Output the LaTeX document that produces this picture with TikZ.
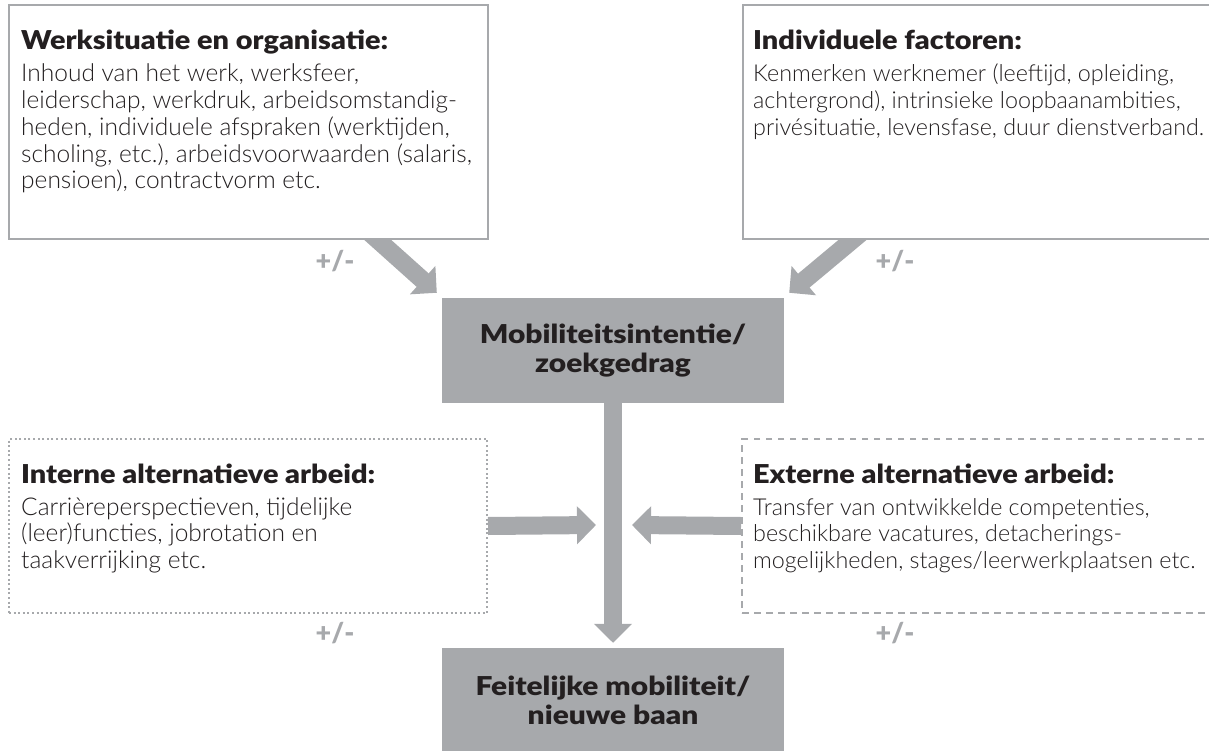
\documentclass[tikz,border=0pt]{standalone}
\usepackage{graphicx}
\usepackage{fontspec}
\setmainfont{Lato}[UprightFont={* Light}, BoldFont={* Black}]
\usetikzlibrary{arrows.meta,calc,backgrounds}
\definecolor{gr}{HTML}{A7A9AC}
\definecolor{ink}{HTML}{231F20}
\newcommand{\hstretch}[1]{\scalebox{1.15}[1]{#1}}
\newcommand{\tstretch}[1]{\scalebox{1.11}[1]{#1}}
\newcommand{\titlefont}{\fontsize{26}{26.7}\selectfont\bfseries}
\newcommand{\boxtext}[3]{\parbox[t]{600pt}{\raggedright\fontsize{#1}{26.7}\selectfont{\titlefont\tstretch{#2}}\\[5.3pt]#3}}
\tikzset{
  solidbox/.style={draw=gr, line width=2pt, fill=white, inner sep=0pt, anchor=north west},
  dotbox/.style={draw=gr, line width=2pt, dash pattern=on 2pt off 2.6pt, fill=white, inner sep=0pt, anchor=north west},
  dashbox/.style={draw=gr, line width=2pt, dash pattern=on 6.5pt off 5.5pt, fill=white, inner sep=0pt, anchor=north west},
  greybox/.style={fill=gr, minimum width=342pt, minimum height=105pt, inner sep=0pt, align=center, text=ink,
    font=\fontsize{26}{29}\selectfont\bfseries},
  txt/.style={anchor=base west, inner sep=0pt, text=ink},
  pm/.style={text=gr, font=\fontsize{27}{30}\selectfont\bfseries, inner sep=0pt},
  fat/.style={draw=gr, line width=18pt, -{Triangle[length=19pt,width=37pt]}}
}
\begin{document}
\begin{tikzpicture}[x=1pt,y=-1pt]
\useasboundingbox (0,0) rectangle (1209,751);
\clip (0,0) rectangle (1209,751);
% boxes
\node[solidbox, minimum width=479pt, minimum height=234pt] (werk) at (8,4) {};
\node[solidbox, minimum width=480pt, minimum height=234pt] (indiv) at (742,4) {};
\node[dotbox, minimum width=478pt, minimum height=174pt] (intern) at (8,438) {};
\node[dashbox, minimum width=480pt, minimum height=174pt] (extern) at (741,438) {};
\node[greybox] (mob) at (613,350.5) {\hstretch{Mobiliteitsintentie/}\\\hstretch{zoekgedrag}};
\node[greybox] (feit) at (613,700.5) {\hstretch{Feitelijke mobiliteit/}\\\hstretch{nieuwe baan}};
% texts
\node[txt] (werkt) at (21,50) {\boxtext{24.5}{Werksituatie en organisatie:}{Inhoud van het werk, werksfeer,\\leiderschap, werkdruk, arbeidsomstandig-\\heden, individuele afspraken (werktijden,\\scholing, etc.), arbeidsvoorwaarden (salaris,\\pensioen), contractvorm etc.}};
\node[txt] (indivt) at (753,50) {\boxtext{23.3}{Individuele factoren:}{Kenmerken werknemer (leeftijd, opleiding,\\achtergrond), intrinsieke loopbaanambities,\\privésituatie, levensfase, duur dienstverband.}};
\node[txt] (internt) at (21,483) {\boxtext{24.5}{Interne alternatieve arbeid:}{Carrièreperspectieven, tijdelijke\\(leer)functies, jobrotation en\\taakverrijking etc.}};
\node[txt] (externt) at (753,483) {\boxtext{23.3}{Externe alternatieve arbeid:}{Transfer van ontwikkelde competenties,\\beschikbare vacatures, detacherings-\\mogelijkheden, stages/leerwerkplaatsen etc.}};
% plus/minus labels
\node[pm] (pm1) at (335,261) {+/-};
\node[pm] (pm2) at (895,261) {+/-};
\node[pm] (pm3) at (335,633) {+/-};
\node[pm] (pm4) at (895,633) {+/-};
% arrow end points
\coordinate (s1) at (370,233);
\coordinate (s2) at (862,232);
\coordinate (t1) at ($(mob.north west)+(-5,-5)$);
\coordinate (t2) at ($(mob.north east)+(5,-5)$);
\coordinate (tv) at ($(feit.north)+(0,-5)$);
\coordinate (tl) at (596,525);
\coordinate (tr) at (632,525);
\begin{scope}[on background layer]
\draw[fat] (s1) -- (t1);
\draw[fat] (s2) -- (t2);
\end{scope}
\draw[fat] (mob.south) -- (tv);
\draw[fat] (intern.east) -- (tl);
\draw[fat] (extern.west) -- (tr);
\end{tikzpicture}
\end{document}
